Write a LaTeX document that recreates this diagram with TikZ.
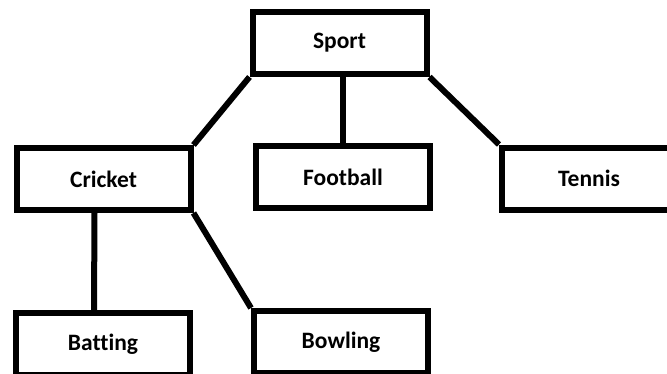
\documentclass[tikz,border=0pt]{standalone}
\usepackage{fontspec}
\setmainfont{Carlito}[Ligatures=NoCommon]
\usetikzlibrary{positioning}

\begin{document}
\begin{tikzpicture}[
    x=1pt, y=1pt,
    font=\fontsize{23.5}{28}\selectfont\bfseries,
    box/.style={
        draw, line width=6pt,
        align=center,
        minimum width=174pt,
        minimum height=62pt,
        inner sep=0pt
    },
    link/.style={line width=6pt}
]

% ===== CANVAS =====
\useasboundingbox (0,0) rectangle (667,373);
\clip (0,0) rectangle (667,373);

% ===== TOP LEVEL =====
\node[box] (sport) at (339.5,330) {Sport};

% ===== SECOND LEVEL =====
\node[box] (cricket)  at (103.5,194) {Cricket};
\node[box] (football) at (343,196)   {Football};
\node[box] (tennis)   at (589,194.5) {Tennis};

% ===== THIRD LEVEL (under cricket) =====
\node[box] (batting) at (103,29) {Batting};
\node[box] (bowling) at (341,31) {Bowling};

% ===== CONNECTORS =====
\draw[link] (sport.south west) -- (cricket.north east);
\draw[link] (football.north |- sport.south) -- (football.north);
\draw[link] (sport.south east) -- (tennis.north west);

\draw[link] ([xshift=-9pt]cricket.south) -- ([xshift=-9pt]batting.north);
\draw[link] (cricket.south east) -- (bowling.north west);

\end{tikzpicture}
\end{document}
